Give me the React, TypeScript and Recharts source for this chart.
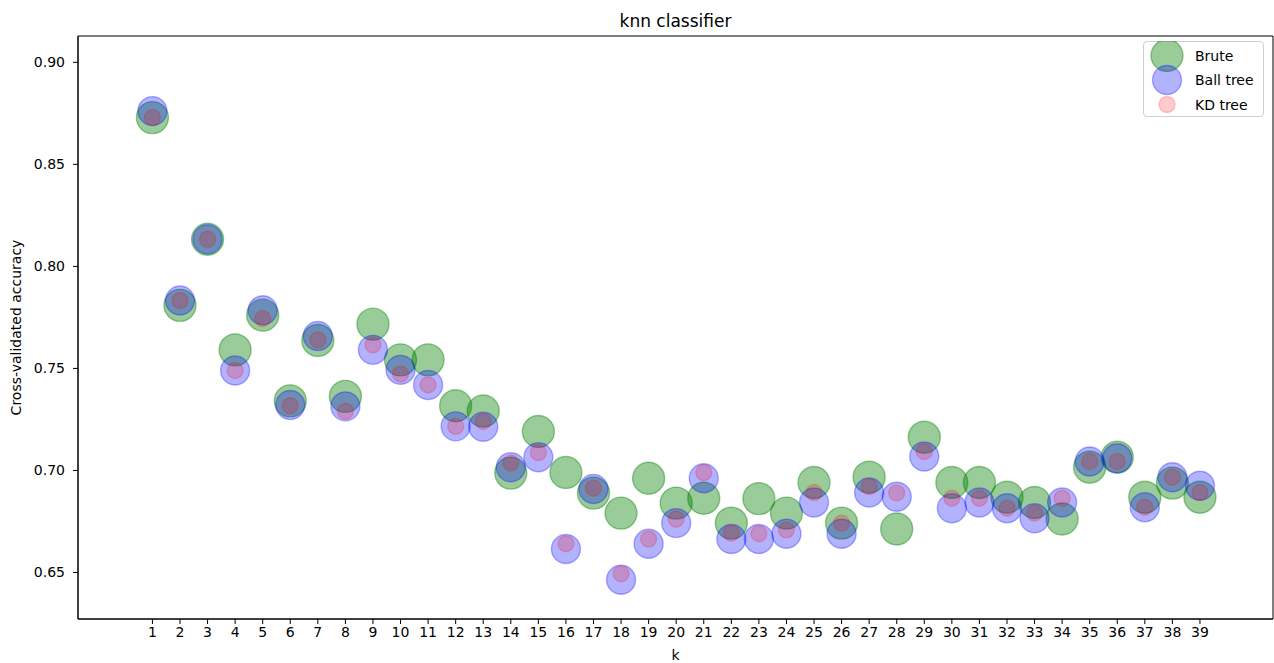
import { ScatterChart, Scatter, XAxis, YAxis, ReferenceArea, Legend } from "recharts";

// k values tried by the cross-validation loop
const kValues = [
  1, 2, 3, 4, 5, 6, 7, 8, 9, 10, 11, 12, 13, 14, 15, 16, 17, 18, 19, 20,
  21, 22, 23, 24, 25, 26, 27, 28, 29, 30, 31, 32, 33, 34, 35, 36, 37, 38, 39,
];

// mean cross-validated accuracy per k, one list per algorithm
const bruteAcc = [
  0.8729, 0.7809, 0.8133, 0.7591, 0.7761, 0.7341, 0.7637, 0.7363, 0.7717, 0.7542,
  0.7542, 0.7317, 0.7291, 0.6987, 0.7191, 0.699, 0.6889, 0.6791, 0.6962, 0.684,
  0.6864, 0.6742, 0.6862, 0.6791, 0.6941, 0.6742, 0.6967, 0.6713, 0.7163, 0.6941,
  0.6941, 0.6869, 0.6843, 0.6762, 0.7016, 0.7065, 0.6869, 0.6938, 0.6869,
];
const ballTreeAcc = [
  0.8761, 0.7833, 0.8133, 0.749, 0.7785, 0.7321, 0.7659, 0.7314, 0.7591, 0.7493,
  0.7419, 0.7216, 0.7214, 0.7016, 0.7065, 0.6615, 0.6909, 0.6464, 0.6641, 0.6742,
  0.6962, 0.6664, 0.6664, 0.669, 0.6843, 0.669, 0.6892, 0.6871, 0.7068, 0.6815,
  0.6843, 0.6815, 0.6766, 0.6843, 0.7044, 0.706, 0.682, 0.6967, 0.6925,
];
const kdTreeAcc = [
  0.8729, 0.7833, 0.8133, 0.749, 0.7744, 0.7317, 0.764, 0.729, 0.7615, 0.7473,
  0.7419, 0.7216, 0.724, 0.7036, 0.7088, 0.6641, 0.6913, 0.6494, 0.6664, 0.6762,
  0.699, 0.6693, 0.669, 0.6709, 0.6892, 0.6742, 0.6921, 0.689, 0.7093, 0.6864,
  0.6864, 0.6815, 0.6791, 0.6864, 0.7044, 0.7044, 0.682, 0.6967, 0.6892,
];

const yTicks = [0.65, 0.7, 0.75, 0.8, 0.85, 0.9];

const X_DOMAIN: [number, number] = [-1.7, 41.65];
const Y_DOMAIN: [number, number] = [0.6272, 0.9129];

const FONT = "DejaVu Sans, sans-serif";

const toPoints = (acc: number[]) => kValues.map((k, i) => ({ k, acc: acc[i] }));

const series = [
  { name: "Brute", data: toPoints(bruteAcc), color: "#008000", alpha: 0.4, r: 16 },
  { name: "Ball tree", data: toPoints(ballTreeAcc), color: "#0000ff", alpha: 0.3, r: 14.5 },
  { name: "KD tree", data: toPoints(kdTreeAcc), color: "#ff0000", alpha: 0.2, r: 8 },
];

type Style = (typeof series)[number];

const dot = (s: Style) => (props: any) => (
  <circle
    cx={props.cx}
    cy={props.cy}
    r={s.r}
    fill={s.color}
    fillOpacity={s.alpha}
    stroke={s.color}
    strokeOpacity={s.alpha}
    strokeWidth={1.4}
  />
);

const yLabel = (props: any) => {
  const vb = props.viewBox || { x: 0, y: 36, width: 78, height: 583 };
  const cy = vb.y + vb.height / 2;
  return (
    <text
      x={16}
      y={cy}
      transform={`rotate(-90, 16, ${cy})`}
      textAnchor="middle"
      dominantBaseline="central"
      fontSize={14}
      fontFamily={FONT}
      fill="#000"
    >
      Cross-validated accuracy
    </text>
  );
};

const xLabel = (props: any) => {
  const vb = props.viewBox || { x: 78, y: 619, width: 1195, height: 44 };
  return (
    <text x={vb.x + vb.width / 2} y={vb.y + 41} textAnchor="middle" fontSize={14} fontFamily={FONT} fill="#000">
      k
    </text>
  );
};

function LegendBox() {
  return (
    <div
      style={{
        width: 121,
        height: 76,
        border: "1px solid #d0d0d0",
        borderRadius: 4,
        background: "rgba(255,255,255,0.8)",
        boxSizing: "border-box",
      }}
    >
      <svg width={121} height={76} style={{ display: "block", marginTop: -1, marginLeft: -1 }}>
        {series.map((s, i) => (
          <g key={s.name}>
            <circle
              cx={24}
              cy={14.5 + i * 24.5}
              r={s.r}
              fill={s.color}
              fillOpacity={s.alpha}
              stroke={s.color}
              strokeOpacity={s.alpha}
              strokeWidth={1.4}
            />
            <text x={52} y={19.5 + i * 24.5} fontSize={14} fontFamily={FONT} fill="#000">
              {s.name}
            </text>
          </g>
        ))}
      </svg>
    </div>
  );
}

export default function App() {
  return (
    <div style={{ position: "absolute", left: 0, top: 0, width: 1274, height: 663, background: "#fff" }}>
      <div
        style={{
          position: "absolute",
          left: 78,
          width: 1195,
          top: 11,
          textAlign: "center",
          fontFamily: FONT,
          fontSize: 17,
          lineHeight: "20px",
          color: "#000",
        }}
      >
        knn classifier
      </div>
      <ScatterChart width={1274} height={663} margin={{ top: 36, right: 1, bottom: 0, left: 0 }}>
        <XAxis
          type="number"
          dataKey="k"
          domain={X_DOMAIN}
          ticks={kValues}
          interval={0}
          allowDataOverflow
          height={44}
          tickSize={5}
          tickMargin={3}
          stroke="#000"
          tick={{ fontSize: 14, fill: "#000", fontFamily: FONT }}
          label={xLabel}
        />
        <YAxis
          type="number"
          dataKey="acc"
          domain={Y_DOMAIN}
          ticks={yTicks}
          allowDataOverflow
          width={78}
          tickSize={5}
          tickMargin={8}
          stroke="#000"
          tick={{ fontSize: 14, fill: "#000", fontFamily: FONT }}
          tickFormatter={(v: number) => v.toFixed(2)}
          label={yLabel}
        />
        <ReferenceArea
          x1={X_DOMAIN[0]}
          x2={X_DOMAIN[1]}
          y1={Y_DOMAIN[0]}
          y2={Y_DOMAIN[1]}
          fill="none"
          stroke="#000"
          strokeWidth={1}
        />
        {series.map((s) => (
          <Scatter key={s.name} name={s.name} data={s.data} shape={dot(s)} isAnimationActive={false} />
        ))}
        <Legend
          layout="vertical"
          align="center"
          verticalAlign="middle"
          wrapperStyle={{ left: 1143, top: 41, width: 121, height: 76 }}
          content={() => <LegendBox />}
        />
      </ScatterChart>
    </div>
  );
}
